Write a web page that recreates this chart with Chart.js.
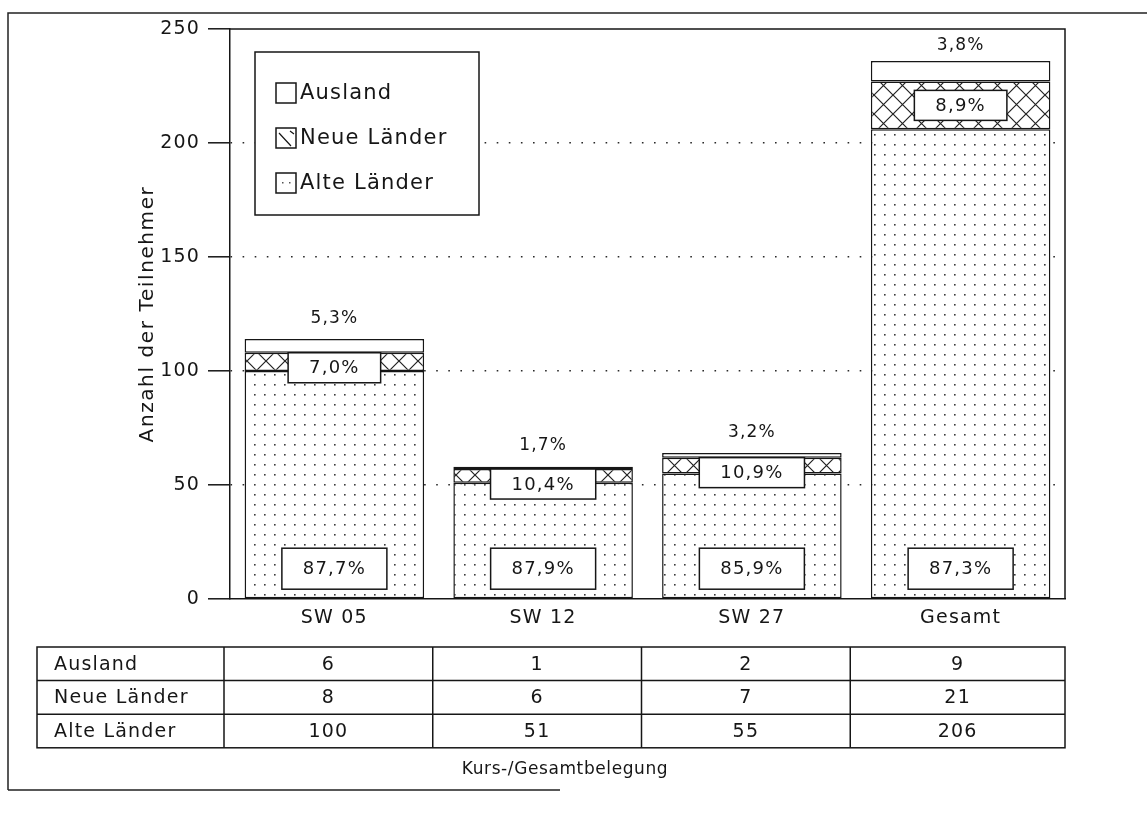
<!DOCTYPE html>
<html>
<head>
<meta charset="utf-8">
<script src="https://cdn.jsdelivr.net/npm/chart.js@4/dist/chart.umd.min.js"></script>
<style>
html,body{margin:0;padding:0;background:#fff;}
#wrap{width:1147px;height:818px;position:relative;}
</style>
</head>
<body>
<div id="wrap"><canvas id="c" width="1147" height="818"></canvas></div>
<script>
// ---- data ----
const categories = ['SW 05', 'SW 12', 'SW 27', 'Gesamt'];
const alteLaender = [100, 51, 55, 206];
const neueLaender = [8, 6, 7, 21];
const ausland = [6, 1, 2, 9];
const pctAlte = ['87,7%', '87,9%', '85,9%', '87,3%'];
const pctNeue = ['7,0%', '10,4%', '10,9%', '8,9%'];
const pctAusland = ['5,3%', '1,7%', '3,2%', '3,8%'];
const yTickValues = [0, 50, 100, 150, 200, 250];
const seriesNames = ['Alte Länder', 'Neue Länder', 'Ausland'];
const yTitle = 'Anzahl der Teilnehmer';
const xTitle = 'Kurs-/Gesamtbelegung';

const FONT = 'DejaVu Sans';
const INK = '#161616';

const canvas = document.getElementById('c');
const mainCtx = canvas.getContext('2d');

function makeDots() {
  const t = document.createElement('canvas');
  t.width = 10; t.height = 10;
  const g = t.getContext('2d');
  g.fillStyle = '#fff'; g.fillRect(0, 0, 10, 10);
  g.fillStyle = '#3a3a3a'; g.fillRect(4, 4, 1.6, 1.6);
  return mainCtx.createPattern(t, 'repeat');
}
function makeCross() {
  const s = 19;
  const t = document.createElement('canvas');
  t.width = s; t.height = s;
  const g = t.getContext('2d');
  g.fillStyle = '#fff'; g.fillRect(0, 0, s, s);
  g.strokeStyle = '#222'; g.lineWidth = 1.2;
  g.beginPath();
  g.moveTo(0, 0); g.lineTo(s, s);
  g.moveTo(s, 0); g.lineTo(0, s);
  g.stroke();
  return mainCtx.createPattern(t, 'repeat');
}
const dotPattern = makeDots();
const crossPattern = makeCross();
const fills = [dotPattern, crossPattern, '#ffffff'];

function spacedText(c, txt, x, y, size, align, spacing) {
  c.save();
  c.font = size + 'px "' + FONT + '"';
  c.letterSpacing = (spacing == null ? 1.2 : spacing) + 'px';
  c.textAlign = align || 'center';
  c.textBaseline = 'middle';
  c.fillStyle = INK;
  c.fillText(txt, x, y);
  c.restore();
}
function textW(c, txt, size) {
  c.save();
  c.font = size + 'px "' + FONT + '"';
  c.letterSpacing = '1.2px';
  const w = c.measureText(txt).width;
  c.restore();
  return w;
}
function labelBox(c, cx, top, w, h, txt, size) {
  c.fillStyle = '#fff';
  c.fillRect(cx - w / 2, top, w, h);
  c.strokeStyle = INK; c.lineWidth = 1.5;
  c.strokeRect(cx - w / 2, top, w, h);
  spacedText(c, txt, cx, top + h / 2 + 1, size);
}

const customPlugin = {
  id: 'customDecor',
  beforeDraw(chart) {
    const c = chart.ctx;
    c.save();
    c.fillStyle = '#fff';
    c.fillRect(0, 0, chart.width, chart.height);
    c.strokeStyle = '#222'; c.lineWidth = 1.5;
    c.beginPath();
    c.moveTo(8, 790); c.lineTo(8, 13); c.lineTo(1147, 13);
    c.moveTo(8, 790); c.lineTo(560, 790);
    c.stroke();
    c.restore();
    // the scanned lettering is slightly wider than the installed fonts
    c.letterSpacing = '1.2px';
  },
  afterDatasetsDraw(chart) {
    const c = chart.ctx, a = chart.chartArea;
    c.save();
    // plot frame (top and right)
    c.strokeStyle = INK; c.lineWidth = 1.5;
    c.beginPath();
    c.moveTo(a.left, a.top); c.lineTo(a.right, a.top); c.lineTo(a.right, a.bottom);
    c.stroke();
    const mA = chart.getDatasetMeta(0).data;
    const mN = chart.getDatasetMeta(1).data;
    const mU = chart.getDatasetMeta(2).data;
    for (let i = 0; i < categories.length; i++) {
      // Ausland share above the bar
      spacedText(c, pctAusland[i], mU[i].x, Math.max(mU[i].y - 21, a.top + 17), 17);
      // Neue Länder share in a box
      const segTop = mN[i].y, segBot = mN[i].base, h = 30;
      const top = Math.max(segTop, (segTop + segBot) / 2 - h / 2);
      const w = textW(c, pctNeue[i], 18) + 42;
      labelBox(c, mN[i].x, top, w, h, pctNeue[i], 18);
      // Alte Länder share at bottom
      labelBox(c, mA[i].x, mA[i].base - 50, 105, 41, pctAlte[i], 18);
    }
    c.restore();
  },
  afterDraw(chart) {
    const c = chart.ctx, a = chart.chartArea, xs = chart.scales.x;
    c.save();
    // axis titles
    c.save();
    c.translate(148, 314);
    c.rotate(-Math.PI / 2);
    spacedText(c, yTitle, 0, 0, 20, 'center', 1.6);
    c.restore();
    spacedText(c, xTitle, 565, 770, 17, 'center', 0.6);
    // legend box
    const lx = a.left + 25, ly = 52, lw = 224, lh = 163;
    c.fillStyle = '#fff'; c.fillRect(lx, ly, lw, lh);
    c.strokeStyle = INK; c.lineWidth = 1.5; c.strokeRect(lx, ly, lw, lh);
    const order = [2, 1, 0];
    order.forEach((d, k) => {
      const cy = 93 + k * 45;
      const sx = lx + 21, sy = cy - 10, ss = 20;
      c.fillStyle = '#fff'; c.fillRect(sx, sy, ss, ss);
      if (d === 0) {
        c.fillStyle = '#555';
        c.fillRect(sx + 6, sy + 9, 1.5, 1.5);
        c.fillRect(sx + 13, sy + 9, 1.5, 1.5);
      } else if (d === 1) {
        c.strokeStyle = INK; c.lineWidth = 1.2;
        c.beginPath();
        c.moveTo(sx + 3, sy + 5); c.lineTo(sx + 15, sy + 18);
        c.moveTo(sx + 14, sy + 3); c.lineTo(sx + 18, sy + 6);
        c.stroke();
      }
      c.strokeStyle = INK; c.lineWidth = 1.5; c.strokeRect(sx, sy, ss, ss);
      spacedText(c, chart.data.datasets[d].label, sx + ss + 4, cy + 1, 21, 'left');
    });
    // data table
    const n = categories.length;
    const step = xs.getPixelForValue(1) - xs.getPixelForValue(0);
    const bounds = [];
    for (let i = 0; i <= n; i++) bounds.push(xs.getPixelForValue(0) - step / 2 + i * step - (i < n ? 6 : 0));
    const tLeft = 37, tTop = a.bottom + 48, rh = 33.6;
    const rows = [[seriesNames[2], ausland], [seriesNames[1], neueLaender], [seriesNames[0], alteLaender]];
    c.strokeStyle = INK; c.lineWidth = 1.5;
    c.strokeRect(tLeft, tTop, bounds[n] - tLeft, rh * rows.length);
    c.beginPath();
    for (let r = 1; r < rows.length; r++) { c.moveTo(tLeft, tTop + r * rh); c.lineTo(bounds[n], tTop + r * rh); }
    for (let i = 0; i < n; i++) { c.moveTo(bounds[i], tTop); c.lineTo(bounds[i], tTop + rh * rows.length); }
    c.stroke();
    rows.forEach((row, r) => {
      const cy = tTop + r * rh + rh / 2 + 1;
      spacedText(c, row[0], tLeft + 17, cy, 19, 'left');
      row[1].forEach((v, i) => spacedText(c, String(v), (bounds[i] + bounds[i + 1]) / 2, cy, 19));
    });
    c.restore();
  }
};

Chart.defaults.font.family = FONT;
Chart.defaults.color = INK;

new Chart(mainCtx, {
  type: 'bar',
  data: {
    labels: categories,
    datasets: [alteLaender, neueLaender, ausland].map((arr, d) => ({
      label: seriesNames[d],
      data: arr,
      backgroundColor: fills[d],
      borderColor: INK,
      borderWidth: 1.5,
      borderSkipped: false,
      barPercentage: 0.86,
      categoryPercentage: 1
    }))
  },
  options: {
    responsive: false,
    animation: false,
    devicePixelRatio: 1,
    layout: { padding: { left: 151, right: 82, top: 29, bottom: 36 } },
    plugins: { legend: { display: false }, tooltip: { enabled: false } },
    scales: {
      x: {
        stacked: true,
        grid: { display: false, drawTicks: false },
        border: { display: true, color: INK, width: 1.5 },
        ticks: { font: { size: 19 }, color: INK, padding: 8 },
        afterFit(s) { s.height = 818 - 36 - 599; }
      },
      y: {
        stacked: true,
        min: 0, max: 250,
        afterBuildTicks(s) { s.ticks = yTickValues.map(v => ({ value: v })); },
        grid: {
          color: (ctx) => (ctx.tick && (ctx.tick.value === 0 || ctx.tick.value === 250)) ? 'rgba(0,0,0,0)' : '#2a2a2a',
          lineWidth: 1.6,
          drawTicks: true,
          tickLength: 22,
          tickColor: INK,
          tickWidth: 1.5,
          tickBorderDash: []
        },
        border: { display: true, color: INK, width: 1.5, dash: [1.6, 10.5] },
        ticks: { font: { size: 19 }, color: INK, padding: 8 },
        afterFit(s) { s.width = 230 - 151; }
      }
    }
  },
  plugins: [customPlugin]
});
</script>
</body>
</html>
